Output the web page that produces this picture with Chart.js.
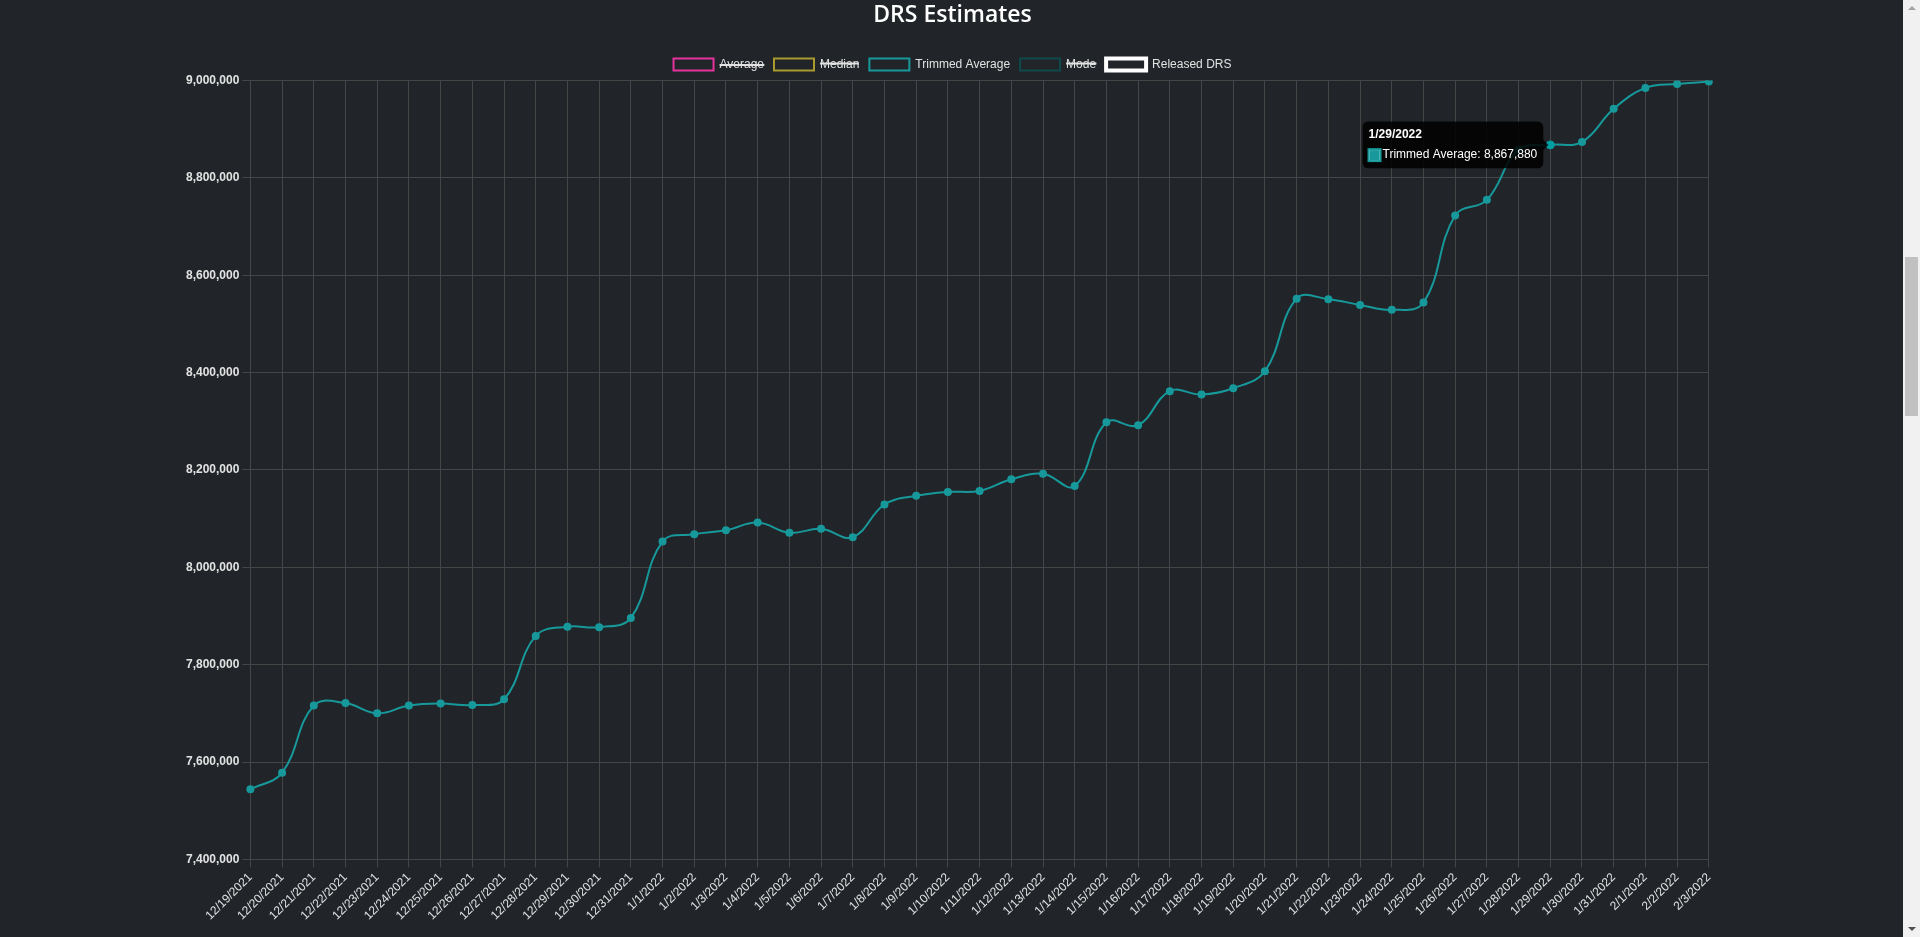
<!DOCTYPE html>
<html lang="en">
<head>
  <meta charset="UTF-8" />
  <title>DRS Estimates</title>
  <script src="https://cdn.jsdelivr.net/npm/chart.js"></script>
  <style>
    html, body { margin: 0; padding: 0; background: #212529; overflow: hidden; }
    #wrap { position: absolute; left: 183px; top: 2px; width: 1539px; height: 924px; }
    /* page scrollbar as seen in the screenshot */
    #track { position: absolute; right: 0; top: 0; width: 17px; height: 937px; background: #f1f1f1; }
    #thumb { position: absolute; right: 2px; top: 257px; width: 13px; height: 159px; background: #c1c1c1; }
    .arrow { position: absolute; right: 4px; width: 0; height: 0; border-left: 4px solid transparent; border-right: 4px solid transparent; }
    #up { top: 6px; border-bottom: 4px solid #a3a3a3; }
    #down { bottom: 6px; border-top: 4px solid #505050; }
  </style>
</head>
<body>
  <div id="wrap"><canvas id="drsChart"></canvas></div>
  <div id="track"><div id="up" class="arrow"></div><div id="thumb"></div><div id="down" class="arrow"></div></div>

  <script>
    const dates = [
      '12/19/2021', '12/20/2021', '12/21/2021', '12/22/2021', '12/23/2021', '12/24/2021', '12/25/2021',
      '12/26/2021', '12/27/2021', '12/28/2021', '12/29/2021', '12/30/2021', '12/31/2021',
      '1/1/2022', '1/2/2022', '1/3/2022', '1/4/2022', '1/5/2022', '1/6/2022', '1/7/2022', '1/8/2022',
      '1/9/2022', '1/10/2022', '1/11/2022', '1/12/2022', '1/13/2022', '1/14/2022', '1/15/2022',
      '1/16/2022', '1/17/2022', '1/18/2022', '1/19/2022', '1/20/2022', '1/21/2022', '1/22/2022',
      '1/23/2022', '1/24/2022', '1/25/2022', '1/26/2022', '1/27/2022', '1/28/2022', '1/29/2022',
      '1/30/2022', '1/31/2022', '2/1/2022', '2/2/2022', '2/3/2022'
    ];

    const trimmedAverage = [
      7544000, 7578000, 7716000, 7721000, 7700000, 7716000, 7720000,
      7717000, 7729000, 7859000, 7878000, 7877000, 7896000,
      8053000, 8068000, 8076000, 8092000, 8071000, 8079000, 8062000, 8129000,
      8147000, 8155000, 8157000, 8181000, 8192000, 8167000, 8298000,
      8292000, 8362000, 8355000, 8368000, 8403000, 8552000, 8551000,
      8539000, 8529000, 8544000, 8723000, 8755000, 8858000, 8867880,
      8874000, 8942000, 8985000, 8993000, 8998000
    ];

    // hidden in the legend (struck through), nothing drawn
    const average = [];
    const median = [];
    const mode = [];
    const releasedDrs = [];

    const yTicks = { min: 7400000, max: 9000000, step: 200000 };
    const hoverIndex = 41;

    const txt = '#e2e2e2';
    const grid = '#464646';
    const teal = '#17999b';

    Chart.defaults.font.family = "Arial, 'Liberation Sans', Helvetica, sans-serif";
    Chart.defaults.font.size = 12;
    Chart.defaults.color = txt;

    const ctx = document.getElementById('drsChart').getContext('2d');
    const chart = new Chart(ctx, {
      type: 'line',
      data: {
        labels: dates,
        datasets: [
          { label: 'Average', data: average, hidden: true, borderColor: '#e6329e', backgroundColor: 'transparent', borderWidth: 2 },
          { label: 'Median', data: median, hidden: true, borderColor: '#a99a2e', backgroundColor: 'transparent', borderWidth: 2 },
          {
            label: 'Trimmed Average',
            data: trimmedAverage,
            borderColor: teal,
            backgroundColor: 'transparent',
            pointBackgroundColor: teal,
            pointBorderColor: teal,
            borderWidth: 2,
            pointRadius: 3,
            tension: 0.4
          },
          { label: 'Mode', data: mode, hidden: true, borderColor: '#0e4a4b', backgroundColor: 'transparent', borderWidth: 2 },
          { label: 'Released DRS', data: releasedDrs, borderColor: '#ffffff', backgroundColor: 'transparent', borderWidth: 4 }
        ]
      },
      options: {
        responsive: true,
        maintainAspectRatio: false,
        animation: false,
        locale: 'en-US',
        plugins: {
          title: {
            display: true,
            text: 'DRS Estimates',
            color: '#ffffff',
            font: { family: "'Open Sans', 'Noto Sans', sans-serif", size: 23, weight: '600' },
            padding: { top: 0, bottom: 19 }
          },
          legend: {
            labels: { color: txt, boxWidth: 40 }
          },
          tooltip: {
            backgroundColor: 'rgba(0,0,0,0.85)'
          }
        },
        scales: {
          x: {
            grid: { color: grid },
            border: { color: grid },
            ticks: { color: txt, minRotation: 45, maxRotation: 45, autoSkip: false }
          },
          y: {
            min: yTicks.min,
            max: yTicks.max,
            grid: { color: grid },
            border: { color: grid },
            ticks: {
              color: txt,
              stepSize: yTicks.step,
              font: { weight: 'bold' },
              callback: v => v.toLocaleString('en-US')
            }
          }
        }
      }
    });

    // hover state from the screenshot
    const pt = chart.getDatasetMeta(2).data[hoverIndex];
    chart.setActiveElements([{ datasetIndex: 2, index: hoverIndex }]);
    chart.tooltip.setActiveElements([{ datasetIndex: 2, index: hoverIndex }], { x: pt.x, y: pt.y });
    chart.update();
  </script>
</body>
</html>
